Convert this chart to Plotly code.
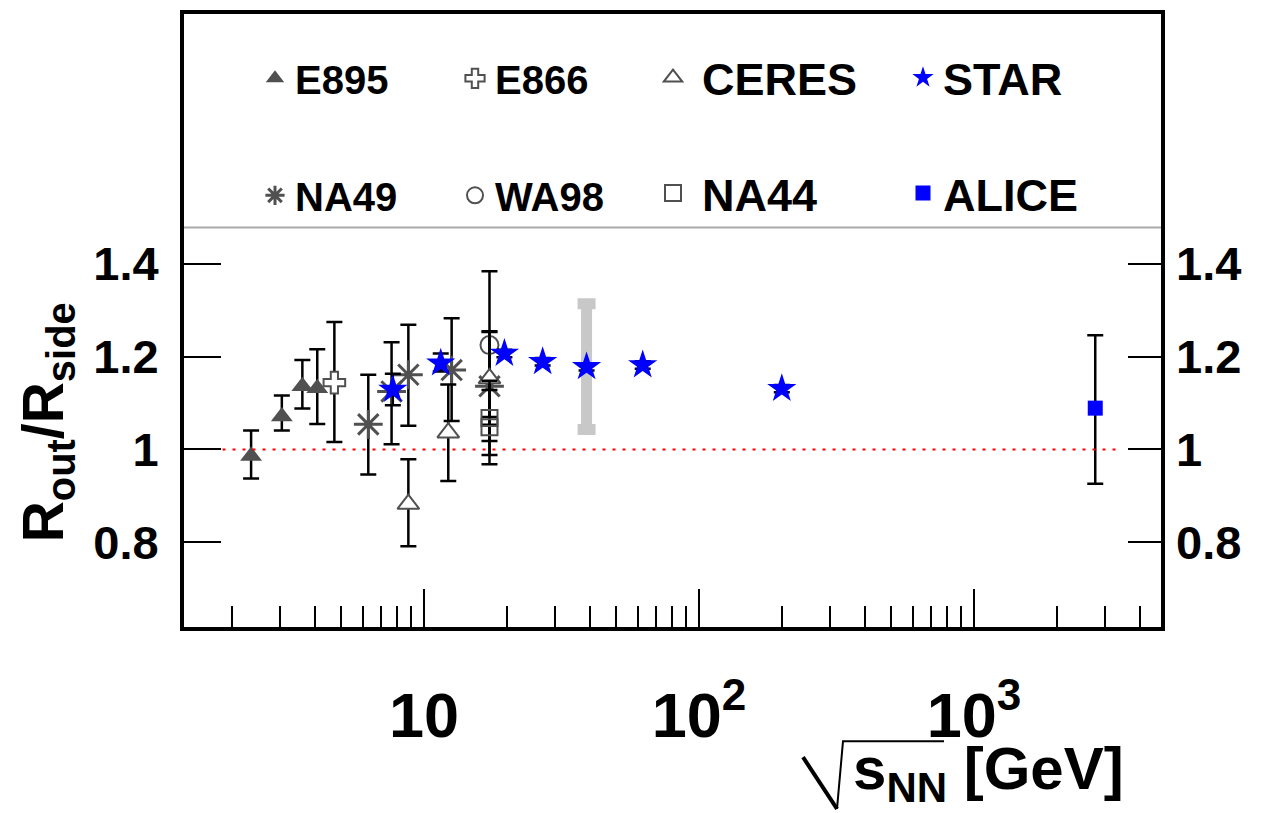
import math
import plotly.graph_objects as go

# ---------------- data ----------------
E895_X = [2.35, 3.04, 3.61, 4.09]
E895_Y = [0.986, 1.071, 1.136, 1.132]
E895_EP = [0.055, 0.045, 0.057, 0.084]
E895_EM = [0.049, 0.030, 0.048, 0.077]

E866_X = [4.72]
E866_Y = [1.144]
E866_EP = [0.131]
E866_EM = [0.128]

NA49_X = [6.27, 7.62, 8.77, 12.6, 17.3]
NA49_Y = [1.054, 1.125, 1.161, 1.171, 1.136]
NA49_EP = [0.107, 0.106, 0.108, 0.112, 0.119]
NA49_EM = [0.108, 0.114, 0.110, 0.110, 0.118]

CERES_X = [8.77, 12.25, 17.3]
CERES_Y = [0.882, 1.036, 1.153]
CERES_EP = [0.097, 0.104, 0.100]
CERES_EM = [0.091, 0.104, 0.100]

WA98_X = [17.3]
WA98_Y = [1.225]
WA98_EP = [0.159]
WA98_EM = [0.155]

NA44_X = [17.3, 17.3]
NA44_Y = [1.068, 1.048]
NA44_EP = [0.080, 0.080]
NA44_EM = [0.080, 0.080]

STAR_X = [7.7, 11.5, 19.6, 27.0, 39.0, 62.4, 200.0]
STAR_Y = [1.129, 1.186, 1.207, 1.189, 1.178, 1.182, 1.131]
STAR_EP = [0.034, 0.021, 0.008, 0.008, 0.008, 0.008, 0.008]
STAR_EM = [0.034, 0.018, 0.008, 0.008, 0.008, 0.008, 0.008]

STAR_SYS_X = [39.0]
STAR_SYS_Y = [1.178]
STAR_SYS_EP = [0.136]
STAR_SYS_EM = [0.135]

ALICE_X = [2760.0]
ALICE_Y = [1.089]
ALICE_EP = [0.157]
ALICE_EM = [0.163]

REF_X = [1.85, 3350.0]
REF_Y = [1.0, 1.0]

X_RANGE = [math.log10(1.34), 3.68]
Y_RANGE = [0.617, 1.939]
Y_TICKS = [0.8, 1.0, 1.2, 1.4]
Y_TICKTEXT = ["0.8", "1", "1.2", "1.4"]
X_TICKS = [10, 100, 1000]
X_TICKTEXT = ["10", "10<sup>2</sup>", "10<sup>3</sup>"]
X_MINOR = [2, 3, 4, 5, 6, 7, 8, 9, 20, 30, 40, 50, 60, 70, 80, 90,
           200, 300, 400, 500, 600, 700, 800, 900, 2000, 3000, 4000]

# ---------------- geometry ----------------
W, H = 1281, 813
ML, MR, MT, MB = 184, 120, 10, 186
PW = W - ML - MR
PH = H - MT - MB


def px(xp):
    return (xp - ML) / PW


def py(yp):
    return (H - MB - yp) / PH


FONT = "Liberation Sans, Arial, Helvetica, sans-serif"
GREY = "#505050"
BLUE = "#0000ff"

fig = go.Figure()

# reference line at 1
fig.add_trace(go.Scatter(x=REF_X, y=REF_Y, mode="lines", yaxis="y2",
                         line=dict(color="#ff0000", width=2, dash="3px,7px"),
                         showlegend=False, hoverinfo="skip"))


def add(name, x, y, ep, em, symbol, color, size, legend, group,
        lcolor=None, lw=0, show=True, ebcolor="black", ebthick=2.5, ebwidth=8):
    fig.add_trace(go.Scatter(
        x=x, y=y, mode="markers", name=name,
        marker=dict(symbol=symbol, color=color, size=size,
                    line=dict(color=lcolor or color, width=lw)),
        error_y=dict(type="data", symmetric=False, array=ep, arrayminus=em,
                     color=ebcolor, thickness=ebthick, width=ebwidth),
        legend=legend, legendgroup=group, showlegend=show))


# STAR systematic band (grey) drawn first
add("STAR sys", STAR_SYS_X, STAR_SYS_Y, STAR_SYS_EP, STAR_SYS_EM,
    "circle", "rgba(0,0,0,0)", 1, "legend4", "g4a", show=False,
    ebcolor="#c8c8c8", ebthick=11, ebwidth=9)

add("E895", E895_X, E895_Y, E895_EP, E895_EM, "triangle-up", GREY, 19, "legend", "g1a")
add("NA49", NA49_X, NA49_Y, NA49_EP, NA49_EM, "asterisk-open", GREY, 24, "legend", "g1b",
    lcolor=GREY, lw=3)
add("E866", E866_X, E866_Y, E866_EP, E866_EM, "cross", "white", 18, "legend2", "g2a",
    lcolor=GREY, lw=2)
add("WA98", WA98_X, WA98_Y, WA98_EP, WA98_EM, "circle-open", GREY, 18, "legend2", "g2b",
    lcolor=GREY, lw=2)
add("\u2009CERES", CERES_X, CERES_Y, CERES_EP, CERES_EM, "triangle-up", "white", 19, "legend3", "g3a",
    lcolor=GREY, lw=2)
add("\u2009NA44", NA44_X, NA44_Y, NA44_EP, NA44_EM, "square-open", GREY, 16, "legend3", "g3b",
    lcolor=GREY, lw=2)
add("STAR", STAR_X, STAR_Y, STAR_EP, STAR_EM, "star", BLUE, 22, "legend4", "g4a")
add("ALICE", ALICE_X, ALICE_Y, ALICE_EP, ALICE_EM, "square", BLUE, 15, "legend4", "g4b")


def legend_cfg(xpix, ypix, size, gap):
    return dict(x=px(xpix), y=py(ypix), xanchor="left", yanchor="top",
                orientation="v", traceorder="grouped", tracegroupgap=gap,
                bgcolor="rgba(0,0,0,0)", borderwidth=0,
                font=dict(family=FONT, size=size, color="black", weight="bold"),
                itemsizing="trace")


fig.update_layout(
    width=W, height=H,
    margin=dict(l=ML, r=MR, t=MT, b=MB, pad=0),
    paper_bgcolor="white", plot_bgcolor="white",
    font=dict(family=FONT, color="black"),
    legend=legend_cfg(255, 42, 40, 62),
    legend2=legend_cfg(455, 42, 40, 62),
    legend3=legend_cfg(653, 38, 45, 54),
    legend4=legend_cfg(903, 38, 45, 54),
    xaxis=dict(type="log", range=X_RANGE, showgrid=False, zeroline=False,
               showline=True, linecolor="black", linewidth=4, mirror=True,
               ticks="inside", ticklen=38, tickwidth=2, tickcolor="black",
               tickvals=X_TICKS, ticktext=X_TICKTEXT,
               tickfont=dict(family=FONT, size=63, weight="bold"),
               ticklabelstandoff=30,
               minor=dict(tickvals=X_MINOR, ticks="inside", ticklen=21,
                          tickwidth=2, tickcolor="black")),
    yaxis=dict(range=Y_RANGE, showgrid=False, zeroline=False,
               showline=True, linecolor="black", linewidth=4, mirror=True,
               ticks="inside", ticklen=37, tickwidth=2, tickcolor="black",
               tickvals=Y_TICKS, ticktext=Y_TICKTEXT,
               tickfont=dict(family=FONT, size=47, weight="bold"),
               ticklabelstandoff=12),
    yaxis2=dict(range=Y_RANGE, overlaying="y", side="right", showgrid=False,
                zeroline=False, showline=False,
                ticks="inside", ticklen=33, tickwidth=2, tickcolor="black",
                tickvals=Y_TICKS, ticktext=Y_TICKTEXT,
                tickfont=dict(family=FONT, size=47, weight="bold"),
                ticklabelstandoff=14),
)

# legend box bottom border (grey line)
fig.add_shape(type="line", xref="paper", yref="paper", x0=0, x1=1,
              y0=py(225), y1=py(225), line=dict(color="#aaaaaa", width=2))

# y-axis title
fig.add_annotation(text="R<sub>out</sub>/R<sub>side</sub>", textangle=-90,
                   xref="paper", yref="paper", x=px(47), y=py(421),
                   xanchor="center", yanchor="middle", showarrow=False,
                   font=dict(family=FONT, size=57, color="black", weight="bold"))

# x-axis title: radical sign + text
fig.add_shape(type="path", xref="paper", yref="paper",
              path=f"M {px(803)},{py(758)} L {px(837)},{py(810)}",
              line=dict(color="black", width=4))
fig.add_shape(type="path", xref="paper", yref="paper",
              path=f"M {px(837)},{py(810)} L {px(843)},{py(742)} L {px(944)},{py(742)}",
              line=dict(color="black", width=2))
fig.add_annotation(text="s<sub>NN</sub> [GeV]", xref="paper", yref="paper",
                   x=px(851), y=py(774), xanchor="left", yanchor="middle",
                   showarrow=False,
                   font=dict(family=FONT, size=60, color="black", weight="bold"))

fig.write_html("out.html")
